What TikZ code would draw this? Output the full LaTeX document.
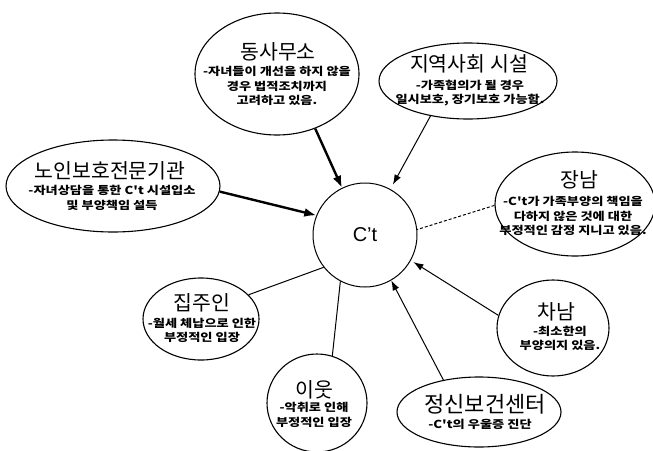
\documentclass[tikz,border=0pt]{standalone}
\usepackage{fontspec}
\setmainfont{Liberation Sans}
\newfontfamily\kr{Noto Sans CJK KR}
\newfontfamily\krsub{Noto Sans CJK KR}[FakeStretch=1.2]
\usetikzlibrary{shapes.geometric,arrows.meta}
\tikzset{
  bub/.style={draw, ellipse, line width=1.1pt, inner sep=0pt},
  ttl/.style={font=\kr\fontsize{20.5}{24}\selectfont, inner sep=0pt},
  subtext/.style={font=\krsub\bfseries\fontsize{11}{14.5}\selectfont, align=center, inner sep=0pt},
  conn/.style={line width=1pt},
  thickconn/.style={line width=2.4pt},
  arr/.style={-{Latex[length=10pt,width=7pt]}},
  bigarr/.style={-{Latex[length=12pt,width=9pt]}}
}
\begin{document}
\begin{tikzpicture}[x=1pt,y=-1pt]
\useasboundingbox (0,0) rectangle (653,450);
% center
\node[bub, circle, line width=1pt, minimum size=104pt, font=\fontsize{20}{24}\selectfont] (ct) at (365,235) {C't};
% 동사무소
\node[bub, minimum width=164pt, minimum height=122pt] (dong) at (277,74) {};
\node[ttl] (dongT) at (278,52) {동사무소};
\node[subtext] (dongS) at (277,86) {-자녀들이 개선을 하지 않을\\경우 법적조치까지\\고려하고 있음.};
% 지역사회 시설
\node[bub, minimum width=178pt, minimum height=76pt] (jiyeok) at (468,81) {};
\node[ttl] (jiyeokT) at (469,63.5) {지역사회 시설};
\node[subtext] (jiyeokS) at (470,93) {-가족협의가 될 경우\\일시보호, 장기보호 가능함.};
% 노인보호전문기관
\node[bub, minimum width=214pt, minimum height=92pt] (noin) at (113,186) {};
\node[ttl] (noinT) at (110,171) {노인보호전문기관};
\node[subtext] (noinS) at (112,198) {-자녀상담을 통한 C't 시설입소\\및 부양책임 설득};
% 장남
\node[bub, minimum width=160pt, minimum height=104pt] (jang) at (575,204) {};
\node[ttl] (jangT) at (579,180) {장남};
\node[subtext] (jangS) at (573,216) {-C't가 가족부양의 책임을\\다하지 않은 것에 대한\\부정적인 감정 지니고 있음.};
% 집주인
\node[bub, minimum width=116pt, minimum height=82pt] (jip) at (201,319) {};
\node[ttl] (jipT) at (202,303) {집주인};
\node[subtext] (jipS) at (202,330.5) {-월세 체납으로 인한\\부정적인 입장};
% 이웃
\node[bub, minimum width=100pt, minimum height=98pt] (iut) at (317,403) {};
\node[ttl] (iutT) at (314,390) {이웃};
\node[subtext] (iutS) at (314,415) {-악취로 인해\\부정적인 입장};
% 정신보건센터
\node[bub, minimum width=164pt, minimum height=70pt] (jeong) at (479,412) {};
\node[ttl, font=\kr\fontsize{22}{26}\selectfont] (jeongT) at (485,404) {정신보건센터};
\node[subtext] (jeongS) at (480,424) {-C't의 우울증 진단};
% 차남
\node[bub, minimum width=112pt, minimum height=96pt] (cha) at (553,328) {};
\node[ttl] (chaT) at (556,312) {차남};
\node[subtext] (chaS) at (560,338.5) {-최소한의\\부양의지 있음.};
% connectors
\draw[thickconn, bigarr] (dong.-55) -- (ct.116);
\draw[conn, arr, shorten >=5pt] (jiyeok.223) -- (ct.61);
\draw[thickconn, bigarr] (noin.-3) -- (ct.158);
\draw[conn, dash pattern=on 3pt off 2pt] (jang.181) -- (ct.6);
\draw[conn] (jip.27) -- (ct.218);
\draw[conn] (iut.72) -- (ct.242);
\draw[conn, arr] (jeong.138) -- (ct.300);
\draw[conn, arr, shorten >=3pt] (cha.167) -- (ct.-29);
\end{tikzpicture}
\end{document}
